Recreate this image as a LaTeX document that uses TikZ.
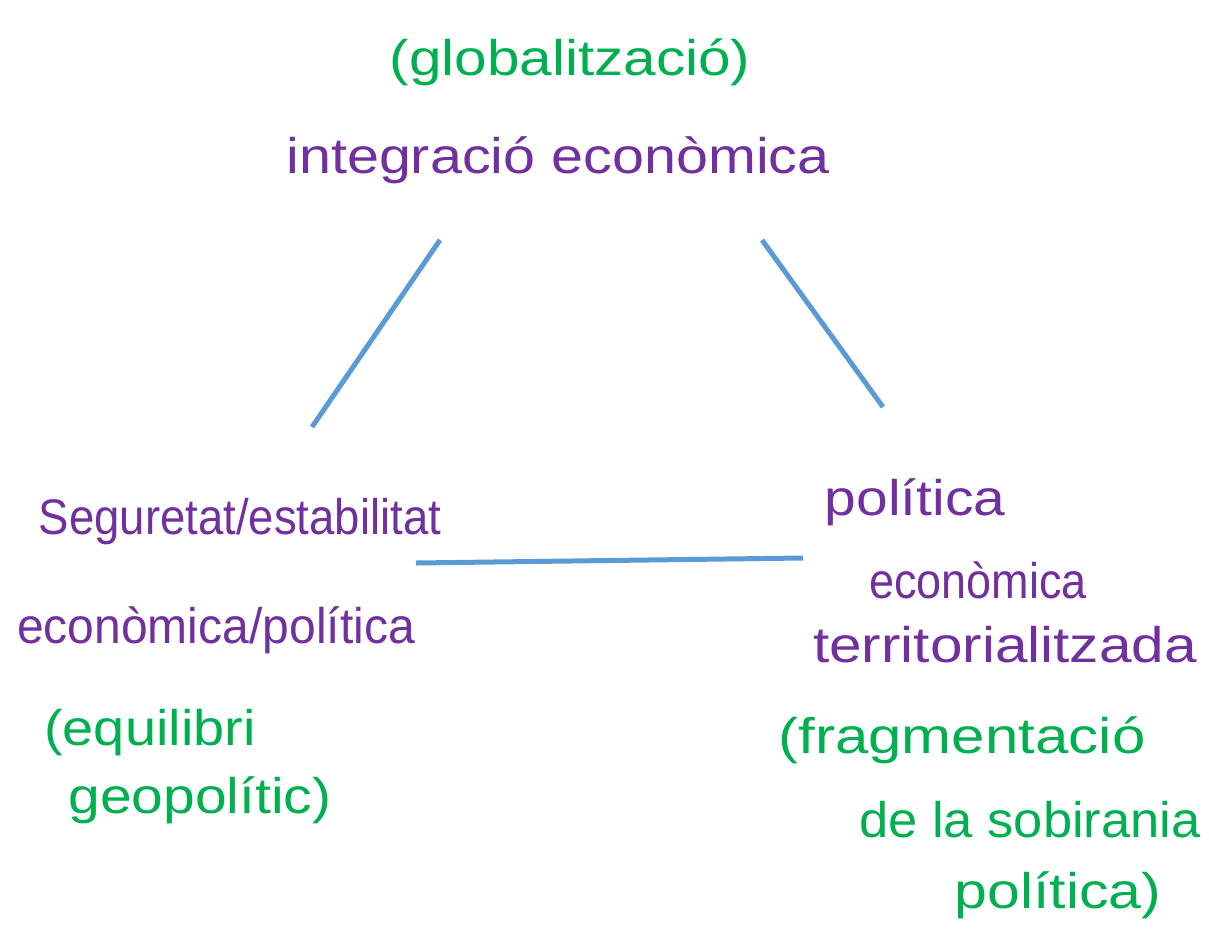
\documentclass[tikz,border=0pt]{standalone}
\usepackage{fontspec}
\setmainfont{Liberation Sans}
\definecolor{hpurple}{RGB}{112,48,160}
\definecolor{hgreen}{RGB}{0,176,80}
\definecolor{hblue}{RGB}{91,155,213}
\newcommand{\sx}[2]{\scalebox{#1}[1]{#2}}
\begin{document}
\begin{tikzpicture}[x=1pt,y=-1pt,
  pur/.style={text=hpurple,inner sep=0pt,anchor=center,font=\fontsize{50}{56}\selectfont},
  grn/.style={text=hgreen,inner sep=0pt,anchor=center,font=\fontsize{50}{56}\selectfont},
  link/.style={draw=hblue,line width=5pt}]
\useasboundingbox (0,0) rectangle (1209,945);
% top
\node[grn] (t1) at (570,62) {\sx{1.17}{(globalització)}};
\node[pur] (t2) at (558,160) {\sx{1.15}{integració econòmica}};
% left
\node[pur] (l1) at (240,522) {\sx{0.91}{Seguretat/estabilitat}};
\node[pur] (l2) at (216,630) {\sx{0.96}{econòmica/política}};
\node[grn] (l3) at (150,733) {\sx{1.12}{(equilibri}};
\node[grn] (l4) at (200,800) {\sx{1.14}{geopolític)}};
% right
\node[pur] (r1) at (915,502) {\sx{1.14}{política}};
\node[pur] (r2) at (978,580) {\sx{0.9}{econòmica}};
\node[pur] (r3) at (1005,645) {\sx{1.17}{territorialitzada}};
\node[grn] (r4) at (962,740) {\sx{1.2}{(fragmentació}};
\node[grn] (r5) at (1030,820) {\sx{1.05}{de la sobirania}};
\node[grn] (r6) at (1058,895) {\sx{1.18}{política)}};
% connectors
\coordinate (a1) at (440,240); \coordinate (a2) at (312,427);
\coordinate (b1) at (762,240); \coordinate (b2) at (883,407);
\coordinate (c1) at (416,563); \coordinate (c2) at (803,558);
\draw[link] (a1) -- (a2);
\draw[link] (b1) -- (b2);
\draw[link] (c1) -- (c2);
\end{tikzpicture}
\end{document}
